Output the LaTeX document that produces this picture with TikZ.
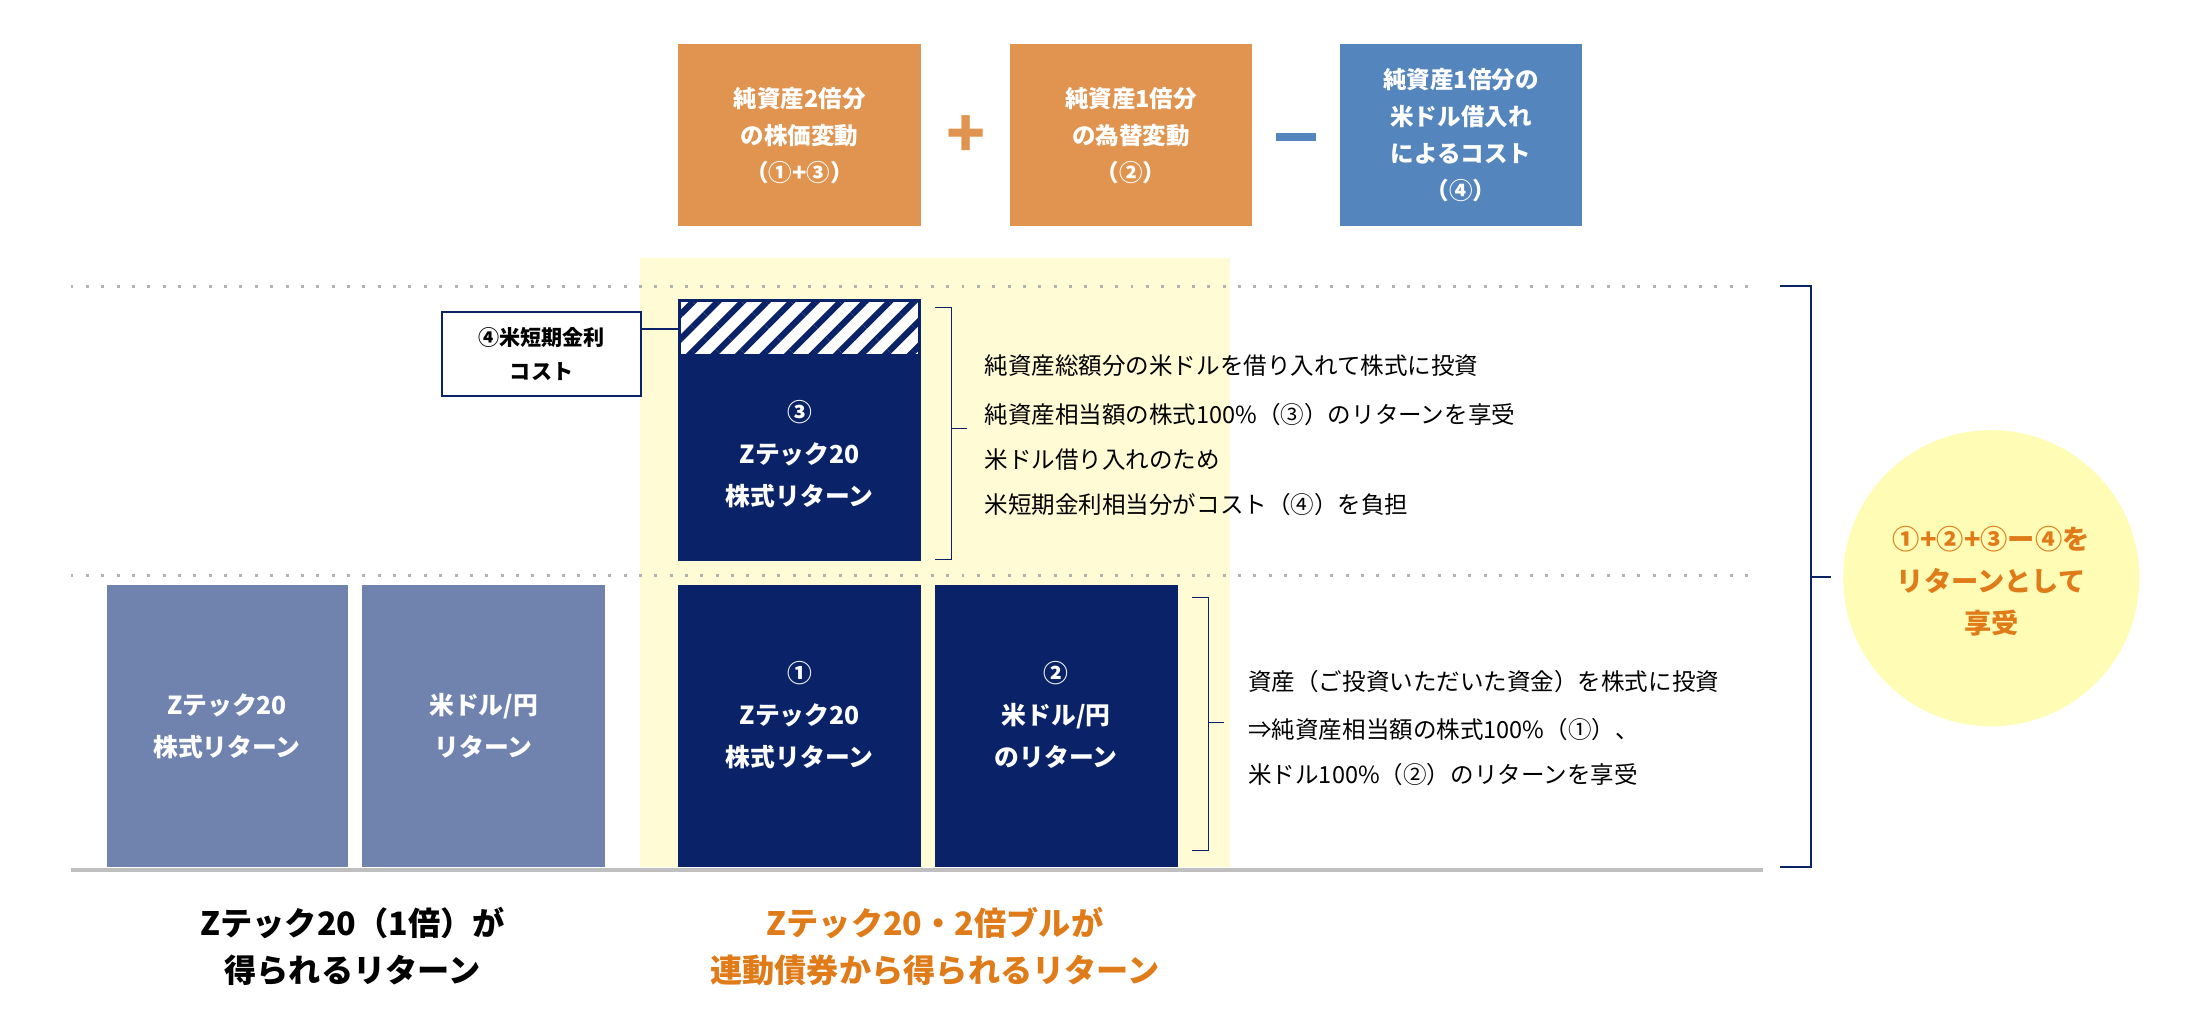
\documentclass[tikz,border=0pt]{standalone}
\usepackage{fontspec}
\setmainfont{Noto Sans CJK JP}
\usetikzlibrary{patterns.meta}
\definecolor{navy}{HTML}{0A2267}
\definecolor{grayblue}{HTML}{7083AE}
\definecolor{orangebox}{HTML}{E09450}
\definecolor{bluebox}{HTML}{5585BD}
\definecolor{band}{HTML}{FFFBD5}
\definecolor{orangetext}{HTML}{E07B1A}
\tikzset{
  topbox/.style={fill=#1,text=white,font=\bfseries\fontsize{9.5}{15}\selectfont,align=center},
  bar/.style={fill=#1,text=white,font=\bfseries\fontsize{10}{17}\selectfont,align=center},
  note/.style={anchor=west,font=\fontsize{9.5}{12}\selectfont},
  brace/.style={navy,thin},
  dotline/.style={gray!60,line width=1.2pt,dash pattern=on 1.2pt off 5pt},
}
\begin{document}
\begin{tikzpicture}[x=0.02cm,y=-0.02cm]
  \useasboundingbox (0,0) rectangle (1560,723);
  % top row
  \fill[orangebox] (481,31) rectangle (653,160);
  \node[topbox=orangebox] (t1) at (567,96) {純資産2倍分\\の株価変動\\（①+③）};
  \fill[orangebox] (716,31) rectangle (888,160);
  \node[topbox=orangebox] (t2) at (802,96) {純資産1倍分\\の為替変動\\（②）};
  \fill[bluebox] (950,31) rectangle (1122,160);
  \node[topbox=bluebox] (t3) at (1036,96) {純資産1倍分の\\米ドル借入れ\\によるコスト\\（④）};
  \node[orangebox,font=\bfseries\fontsize{26}{26}\selectfont] (plus) at (685,97) {+};
  \draw[bluebox,line width=3pt] (905,97) -- (933,97);
  % band and guides
  \fill[band] (454,183) rectangle (872,615);
  \draw[dotline] (50,203) -- (1245,203);
  \draw[dotline] (50,408) -- (1245,408);
  % upper bar
  \fill[navy] (481,212) rectangle (653,398);
  \fill[white] (483,214) rectangle (651,251);
  \path[pattern={Lines[angle=45,distance=7pt,line width=2.5pt]},pattern color=navy] (483,214) rectangle (651,251);
  \node[bar=navy] (b3) at (567,322) {③\\Zテック20\\株式リターン};
  \node[draw=navy,thick,text width=2.4cm,align=center,
        font=\bfseries\fontsize{8.5}{14}\selectfont,inner sep=6pt] (cost) at (384,251) {④米短期金利\\コスト};
  \draw[navy,thick] (cost.east |- 0,233) -- (481,233);
  \draw[brace] (663,218) -- (675,218) -- (675,397) -- (663,397);
  \draw[brace] (675,304) -- (686,304);
  \node[note] (n1) at (692,259) {純資産総額分の米ドルを借り入れて株式に投資};
  \node[note] (n2) at (692,294) {純資産相当額の株式100\%（③）のリターンを享受};
  \node[note] (n3) at (692,326) {米ドル借り入れのため};
  \node[note] (n4) at (692,358) {米短期金利相当分がコスト（④）を負担};
  % lower bars
  \fill[grayblue] (76,415) rectangle (247,615);
  \node[bar=grayblue] (g1) at (161,515) {Zテック20\\株式リターン};
  \fill[grayblue] (257,415) rectangle (429,615);
  \node[bar=grayblue] (g2) at (343,515) {米ドル/円\\リターン};
  \fill[navy] (481,415) rectangle (653,615);
  \node[bar=navy] (b1) at (567,507) {①\\Zテック20\\株式リターン};
  \fill[navy] (663,415) rectangle (835,615);
  \node[bar=navy] (b2) at (749,507) {②\\米ドル/円\\のリターン};
  \draw[brace] (845,424) -- (857,424) -- (857,603) -- (845,603);
  \draw[brace] (857,512) -- (868,512);
  \node[note] (n5) at (879,483) {資産（ご投資いただいた資金）を株式に投資};
  \node[note] (n6) at (879,517) {⇒純資産相当額の株式100\%（①）、};
  \node[note] (n7) at (879,549) {米ドル100\%（②）のリターンを享受};
  \draw[gray!50,line width=1.8pt] (50,617) -- (1250,617);
  % total
  \draw[navy,thick] (1262,203) -- (1284,203) -- (1284,615) -- (1262,615);
  \draw[navy,thick] (1284,409) -- (1298,409);
  \fill[band!85!yellow] (1412,410) circle (105);
  \node[text=orangetext,font=\bfseries\fontsize{11}{17}\selectfont,align=center] (sum) at (1412,412) {①+②+③ー④を\\リターンとして\\享受};
  % captions
  \node[font=\bfseries\fontsize{13}{19}\selectfont,align=center] (c1) at (250,671) {Zテック20（1倍）が\\得られるリターン};
  \node[text=orangetext,font=\bfseries\fontsize{13}{19}\selectfont,align=center] (c2) at (663,671) {Zテック20・2倍ブルが\\連動債券から得られるリターン};
\end{tikzpicture}
\end{document}
